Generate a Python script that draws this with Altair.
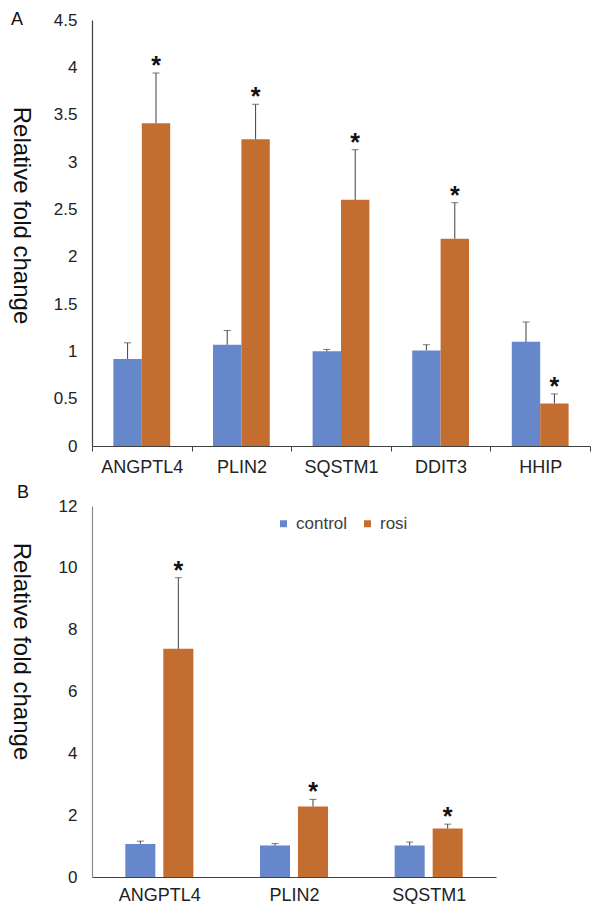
import altair as alt
import pandas as pd

# ---- data ----
groups = ["control", "rosi"]

genes_a = ["ANGPTL4", "PLIN2", "SQSTM1", "DDIT3", "HHIP"]
ctrl_a = [0.92, 1.07, 1.00, 1.01, 1.10]
ctrl_a_err = [0.17, 0.15, 0.02, 0.06, 0.21]
rosi_a = [3.41, 3.24, 2.60, 2.19, 0.45]
rosi_a_err = [0.53, 0.37, 0.53, 0.38, 0.10]
sig_a = ["*", "*", "*", "*", "*"]

genes_b = ["ANGPTL4", "PLIN2", "SQSTM1"]
ctrl_b = [1.07, 1.02, 1.02]
ctrl_b_err = [0.09, 0.06, 0.11]
rosi_b = [7.38, 2.28, 1.57]
rosi_b_err = [2.30, 0.23, 0.14]
sig_b = ["*", "*", "*"]

ticks_a = [0, 0.5, 1, 1.5, 2, 2.5, 3, 3.5, 4, 4.5]
ticks_b = [0, 2, 4, 6, 8, 10, 12]

BLUE = "#6687C9"
ORANGE = "#C46D31"
FONT = "Liberation Sans"
DARK = "#404040"


def make_df(genes, ctrl, ctrl_err, rosi, rosi_err, sig):
    rows = []
    for i, g in enumerate(genes):
        rows.append(dict(gene=g, group="control", value=ctrl[i],
                         top=ctrl[i] + ctrl_err[i], sig=""))
        rows.append(dict(gene=g, group="rosi", value=rosi[i],
                         top=rosi[i] + rosi_err[i], sig=sig[i]))
    return pd.DataFrame(rows)


def panel(df, genes, ticks, ymax, width, height, letter, letter_x, letter_y,
          outer, inner, xticks, title_x, title_y, ydomain_color, legend):
    xenc = alt.X("gene:N", sort=genes,
                 scale=alt.Scale(paddingInner=0, paddingOuter=0),
                 axis=alt.Axis(title=None, labelAngle=0, labelFontSize=18,
                               labelColor="#222222", labelFont=FONT,
                               tickBand="extent", ticks=xticks,
                               tickSize=5 if xticks else 0,
                               labelPadding=7 if xticks else 9,
                               tickColor=DARK, domainColor=DARK,
                               domainWidth=1.2))
    xo = alt.XOffset("group:N", sort=groups,
                     scale=alt.Scale(paddingInner=inner, paddingOuter=outer))
    yenc = alt.Y("value:Q", scale=alt.Scale(domain=[0, ymax], nice=False),
                 axis=alt.Axis(title="Relative fold change", titleAngle=90,
                               titleFontSize=24, titleFontWeight="normal",
                               titleFont=FONT, titleColor="#111111",
                               titleX=title_x, titleY=title_y,
                               titleAlign="center", titleBaseline="middle",
                               values=ticks, format="~g", ticks=False,
                               tickSize=0, labelPadding=15, labelFontSize=17,
                               labelFont=FONT, labelColor="#222222",
                               grid=False, domainColor=ydomain_color,
                               domainWidth=1.2))
    cenc = alt.Color("group:N", sort=groups,
                     scale=alt.Scale(domain=groups, range=[BLUE, ORANGE]),
                     legend=legend)
    base = alt.Chart(df)
    bars = base.mark_bar().encode(x=xenc, xOffset=xo, y=yenc, color=cenc)
    xs = alt.X("gene:N", sort=genes)
    xos = alt.XOffset("group:N", sort=groups)
    rule = base.mark_rule(color=DARK, strokeWidth=1).encode(
        x=xs, xOffset=xos, y="value:Q", y2="top:Q")
    cap = base.mark_tick(color=DARK, thickness=1, size=7).encode(
        x=xs, xOffset=xos, y="top:Q")
    star = base.transform_filter("datum.sig == '*'").mark_text(
        font=FONT, fontSize=25, fontWeight="bold", color="#111111",
        baseline="alphabetic", dy=1).encode(
        x=xs, xOffset=xos, y="top:Q", text="sig:N")
    lab = alt.Chart(pd.DataFrame({"t": [letter]})).mark_text(
        font=FONT, fontSize=18, align="left", baseline="alphabetic",
        color="#111111").encode(text="t:N", x=alt.value(letter_x),
                                y=alt.value(letter_y))
    return alt.layer(bars, rule, cap, star, lab).resolve_scale(
        xOffset="shared").properties(width=width, height=height)


df_a = make_df(genes_a, ctrl_a, ctrl_a_err, rosi_a, rosi_a_err, sig_a)
df_b = make_df(genes_b, ctrl_b, ctrl_b_err, rosi_b, rosi_b_err, sig_b)

legend_b = alt.Legend(title=None, orient="none", legendX=183, legendY=9,
                      direction="horizontal", symbolType="square",
                      symbolSize=49, symbolStrokeWidth=0, labelFontSize=17,
                      labelFont=FONT, labelColor=DARK, columnPadding=11,
                      labelOffset=4, padding=0)

panel_a = panel(df_a, genes_a, ticks_a, 4.5, 498, 426, "A", -81, 5,
                0.754, 0.0, True, -72, 195, DARK, None)
panel_b = panel(df_b, genes_b, ticks_b, 12, 404, 371, "B", -75, -8,
                0.876, 0.21, False, -72, 145, "#8C8C8C", legend_b)

chart = alt.vconcat(panel_a, panel_b, spacing=8).resolve_scale(
    color="independent", x="independent", y="independent",
    xOffset="independent").properties(
    padding={"left": 0, "top": 3, "right": 0, "bottom": 0}
).configure_view(stroke=None)

chart.save("out.html", embed_options={"renderer": "svg", "actions": False})
